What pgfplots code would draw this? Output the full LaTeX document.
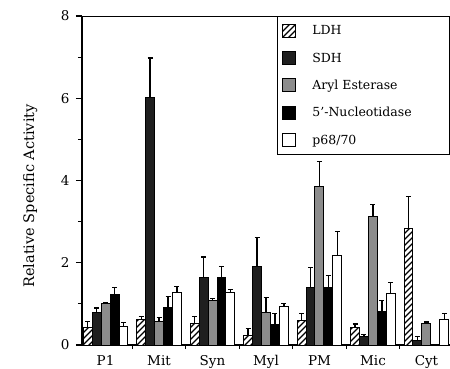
\documentclass[border=0pt]{standalone}
\usepackage{fontspec}
\setmainfont{DejaVu Serif}
\usepackage{pgfplots}
\pgfplotsset{compat=1.18}
\usepackage{pgfplotstable}
\usetikzlibrary{patterns}
\pgfdeclarepatternformonly{hatch}{\pgfqpoint{-1pt}{-1pt}}{\pgfqpoint{7pt}{7pt}}{\pgfqpoint{6pt}{6pt}}{%
  \pgfsetlinewidth{1.3pt}\pgfpathmoveto{\pgfqpoint{0pt}{0pt}}\pgfpathlineto{\pgfqpoint{6.1pt}{6.1pt}}\pgfusepath{stroke}}

\pgfplotstableread{
x y e
0 0.42 0.15
1 0.61 0.08
2 0.53 0.16
3 0.24 0.17
4 0.60 0.17
5 0.43 0.08
6 2.83 0.79
}\ldh
\pgfplotstableread{
x y e
0 0.80 0.10
1 6.02 0.96
2 1.63 0.51
3 1.90 0.71
4 1.41 0.47
5 0.20 0.06
6 0.11 0.10
}\sdh
\pgfplotstableread{
x y e
0 1.02 0.02
1 0.57 0.10
2 1.08 0.05
3 0.78 0.38
4 3.85 0.61
5 3.12 0.29
6 0.53 0.03
}\aryl
\pgfplotstableread{
x y e
0 1.22 0.18
1 0.92 0.26
2 1.63 0.27
3 0.51 0.25
4 1.41 0.29
5 0.82 0.27
}\nuc
\pgfplotstableread{
x y e
0 0.45 0.10
1 1.28 0.15
2 1.28 0.08
3 0.93 0.08
4 2.17 0.59
5 1.25 0.28
6 0.62 0.14
}\pp

\newcommand{\lt}[1]{\makebox[144pt][l]{\hspace*{14pt}#1}}

\begin{document}
\begin{tikzpicture}
\begin{axis}[
  scale only axis,
  width=368pt, height=329pt,
  xmin=-0.44, xmax=6.44,
  ymin=0, ymax=8,
  axis lines=left,
  axis line style={-, line width=1.2pt},
  ybar, bar width=0.168,
  xtick={0,1,2,3,4,5,6},
  xticklabels={P1,Mit,Syn,Myl,PM,Mic,Cyt},
  minor xtick={0.5,1.5,2.5,3.5,4.5,5.5},
  ytick={0,2,4,6,8},
  minor ytick={1,3,5,7},
  tick align=outside,
  major tick length=6pt,
  minor tick length=4pt,
  major x tick style={draw=none},
  every tick/.style={line width=1.1pt, black},
  ticklabel style={font=\fontsize{13.5}{15}\selectfont},
  yticklabel style={xshift=-3pt},
  xticklabel style={yshift=-1pt},
  /pgf/number format/assume math mode=true,
  ylabel={Relative Specific Activity},
  ylabel style={font=\fontsize{14.5}{16}\selectfont, at={(axis description cs:-0.141,0.453)}, anchor=center, rotate=0},
  legend style={at={(rel axis cs:1,1)}, anchor=north east, draw=black, line width=1.2pt,
    font=\fontsize{12.5}{14}\selectfont, row sep=12.5pt, inner ysep=7pt, inner xsep=5pt, cells={anchor=west}},
  legend image code/.code={\draw[#1, line width=1pt] (0pt,-6.5pt) rectangle (13pt,6.5pt);},
  error bars/y dir=plus,
  error bars/y explicit,
  error bars/error bar style={line width=1.1pt, black},
  error bars/error mark options={rotate=90, mark size=2.5pt, line width=1.1pt, black},
]
\addplot[draw=black, line width=1pt, fill=white, postaction={pattern=hatch}, bar shift=-0.336] table[x=x, y=y, y error=e] {\ldh};
\addlegendentry{\lt{LDH}}
\addplot[draw=black, line width=1pt, fill=black!88, bar shift=-0.168] table[x=x, y=y, y error=e] {\sdh};
\addlegendentry{\lt{SDH}}
\addplot[draw=black, line width=1pt, fill=black!45, bar shift=0] table[x=x, y=y, y error=e] {\aryl};
\addlegendentry{\lt{Aryl Esterase}}
\addplot[draw=black, line width=1pt, fill=black, bar shift=0.168] table[x=x, y=y, y error=e] {\nuc};
\addlegendentry{\lt{5'-Nucleotidase}}
\addplot[draw=black, line width=1pt, fill=white, bar shift=0.336] table[x=x, y=y, y error=e] {\pp};
\addlegendentry{\lt{p68/70}}
\draw[line width=1.2pt] (rel axis cs:0,1) -- (rel axis cs:1,1);
\end{axis}
\pgfresetboundingbox
\path[use as bounding box] (-82pt,-23pt) rectangle (368pt,345pt);
\end{tikzpicture}
\end{document}
